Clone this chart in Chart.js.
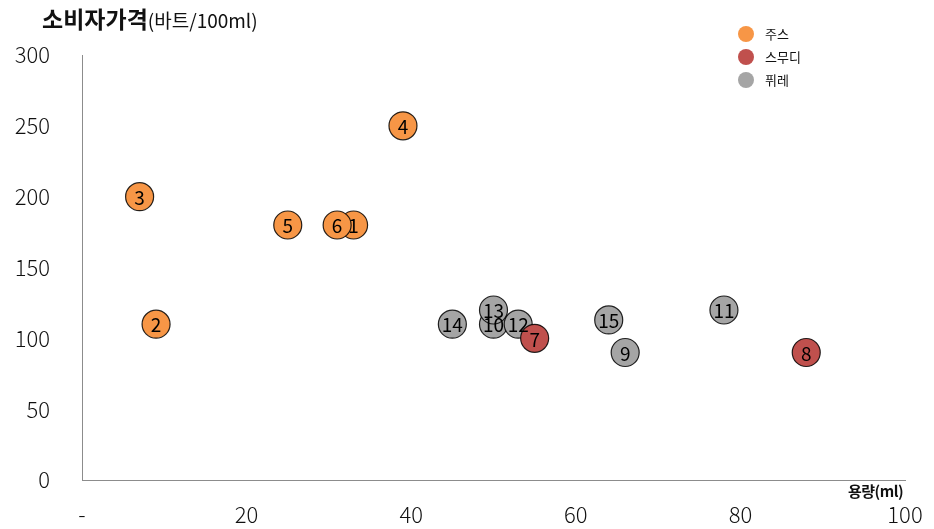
<!DOCTYPE html>
<html>
<head>
<meta charset="utf-8">
<script src="https://cdn.jsdelivr.net/npm/chart.js@4"></script>
<style>
  body { margin: 0; background: #fff; font-family: "Noto Sans CJK KR", "Noto Sans", sans-serif; }
  #wrap { position: relative; width: 934px; height: 529px; }
  #title { position: absolute; left: 42px; top: 1px; font-size: 23px; font-weight: 700; color: #111; white-space: nowrap; }
  #title span { font-size: 19px; font-weight: 400; }
  #xTitle { position: absolute; left: 848px; top: 480px; font-size: 15px; font-weight: 700; color: #111; letter-spacing: -0.5px; }
  #legend { position: absolute; left: 738px; top: 22px; font-size: 13px; color: #111; }
  #legend div { height: 23px; display: flex; align-items: center; }
  #legend i { display: inline-block; width: 16px; height: 16px; border-radius: 50%; margin-right: 11px; }
</style>
</head>
<body>
<div id="wrap">
  <canvas id="chart" width="934" height="529"></canvas>
  <div id="title">소비자가격<span>(바트/100ml)</span></div>
  <div id="xTitle">용량(ml)</div>
  <div id="legend"></div>
</div>
<script>
// ---------- DATA ----------
const seriesNames = ['주스', '스무디', '퓌레'];
const seriesColors = ['#F79646', '#C0504D', '#A5A5A5'];

const juiceIds = [1, 2, 3, 4, 5, 6];
const juiceX = [33, 9, 7, 39, 25, 31];
const juiceY = [180, 110, 200, 250, 180, 180];

const smoothieIds = [7, 8];
const smoothieX = [55, 88];
const smoothieY = [100, 90];

const pureeIds = [9, 10, 11, 12, 13, 14, 15];
const pureeX = [66, 50, 78, 53, 50, 45, 64];
const pureeY = [90, 110, 120, 110, 120, 110, 113];

const xTicks = [0, 20, 40, 60, 80, 100];
const yTicks = [0, 50, 100, 150, 200, 250, 300];

// ---------- HELPERS ----------
function toPoints(xs, ys, ids) {
  return xs.map((x, i) => ({ x: x, y: ys[i], id: ids[i] }));
}

const idLabels = {
  id: 'idLabels',
  afterDatasetsDraw(chart) {
    const ctx = chart.ctx;
    ctx.save();
    ctx.fillStyle = '#000';
    ctx.font = '19px "Noto Sans CJK KR", sans-serif';
    ctx.textAlign = 'center';
    ctx.textBaseline = 'middle';
    chart.data.datasets.forEach((ds, di) => {
      const meta = chart.getDatasetMeta(di);
      meta.data.forEach((el, i) => {
        ctx.fillText(String(ds.data[i].id), el.x, el.y + 1);
      });
    });
    ctx.restore();
  }
};

// ---------- LEGEND ----------
document.getElementById('legend').innerHTML = seriesNames
  .map((n, i) => `<div><i style="background:${seriesColors[i]}"></i>${n}</div>`)
  .join('');

// ---------- CHART ----------
const allSets = [
  toPoints(juiceX, juiceY, juiceIds),
  toPoints(smoothieX, smoothieY, smoothieIds),
  toPoints(pureeX, pureeY, pureeIds)
];

const tickFont = { family: '"Noto Sans CJK KR", sans-serif', size: 22, weight: 300 };

new Chart(document.getElementById('chart'), {
  type: 'scatter',
  data: {
    datasets: allSets.map((pts, i) => ({
      label: seriesNames[i],
      data: pts,
      backgroundColor: seriesColors[i],
      borderColor: 'rgba(0,0,0,0.85)',
      borderWidth: 1.2,
      pointRadius: 14,
      pointHoverRadius: 14
    }))
  },
  options: {
    responsive: false,
    animation: false,
    layout: { padding: { left: 10, right: 29, top: 55, bottom: 0 } },
    plugins: { legend: { display: false }, tooltip: { enabled: false } },
    scales: {
      x: {
        min: 0, max: 100,
        afterBuildTicks: (s) => { s.ticks = xTicks.map(v => ({ value: v })); },
        afterFit: (s) => { s.height = 49; s.paddingLeft = 0; s.paddingRight = 0; },
        grid: { display: false, drawTicks: false },
        border: { display: true, color: '#8c8c8c', width: 1 },
        ticks: {
          padding: 21, color: '#111', font: tickFont, maxRotation: 0,
          callback: (v) => v === 0 ? '-' : v
        }
      },
      y: {
        min: 0, max: 300,
        afterBuildTicks: (s) => { s.ticks = yTicks.map(v => ({ value: v })); },
        afterFit: (s) => { s.width = 72; s.paddingTop = 0; s.paddingBottom = 0; },
        grid: { display: false, drawTicks: false },
        border: { display: true, color: '#8c8c8c', width: 1 },
        ticks: { padding: 32, color: '#111', font: tickFont }
      }
    }
  },
  plugins: [idLabels]
});
</script>
</body>
</html>
